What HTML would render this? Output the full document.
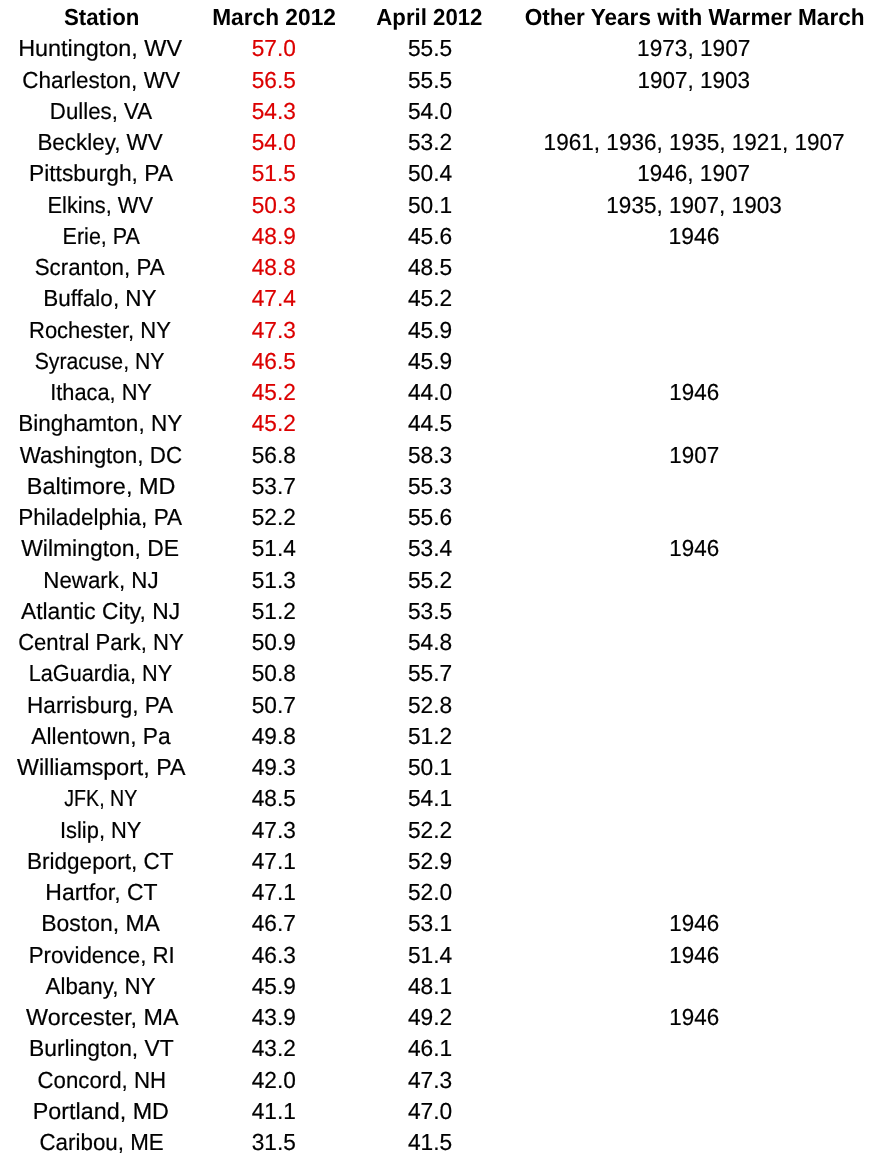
<!DOCTYPE html>
<html><head><meta charset="utf-8"><style>
html,body{margin:0;padding:0;background:#fff;width:878px;height:1159px;overflow:hidden}
body{position:relative;font-family:"Liberation Sans",sans-serif;color:#000;text-rendering:geometricPrecision}
.t{position:absolute;white-space:nowrap;-webkit-text-stroke:0.2px currentColor;width:500px;text-align:center;transform-origin:0 0}
.b{font-weight:bold;-webkit-text-stroke:0}
.r{color:#dc0000}
#wrap{position:absolute;left:0;top:0;width:878px;height:1159px;will-change:transform;filter:blur(0.3px)}
</style></head><body><div id="wrap">
<div class="t b" style="left:-140px;top:6.36px;padding-left:1.797px;font-size:23.2px;line-height:23.2px;transform:scaleX(0.9597)">Station</div>
<div class="t b" style="left:28px;top:6.36px;padding-left:1.123px;font-size:23.2px;line-height:23.2px;transform:scaleX(0.9798)">March 2012</div>
<div class="t b" style="left:188px;top:6.36px;padding-left:1.920px;font-size:23.2px;line-height:23.2px;transform:scaleX(0.9582)">April 2012</div>
<div class="t b" style="left:450px;top:6.36px;padding-left:1.320px;font-size:23.2px;line-height:23.2px;transform:scaleX(0.9733)">Other Years with Warmer March</div>
<div class="t" style="left:-154px;top:37.36px;padding-left:1.838px;font-size:23.2px;line-height:23.2px;transform:scaleX(1.0091)">Huntington, WV</div>
<div class="t r" style="left:28px;top:37.36px;padding-left:1.288px;font-size:23.2px;line-height:23.2px;transform:scaleX(0.9780)">57.0</div>
<div class="t" style="left:183px;top:37.36px;padding-left:1.938px;font-size:23.2px;line-height:23.2px;transform:scaleX(0.9806)">55.5</div>
<div class="t" style="left:448px;top:37.36px;padding-left:1.891px;font-size:23.2px;line-height:23.2px;transform:scaleX(0.9755)">1973, 1907</div>
<div class="t" style="left:-143px;top:69.36px;padding-left:1.422px;font-size:23.2px;line-height:23.2px;transform:scaleX(0.9708)">Charleston, WV</div>
<div class="t r" style="left:28px;top:69.36px;padding-left:1.288px;font-size:23.2px;line-height:23.2px;transform:scaleX(0.9780)">56.5</div>
<div class="t" style="left:183px;top:69.36px;padding-left:1.938px;font-size:23.2px;line-height:23.2px;transform:scaleX(0.9806)">55.5</div>
<div class="t" style="left:450px;top:69.36px;padding-left:1.434px;font-size:23.2px;line-height:23.2px;transform:scaleX(0.9692)">1907, 1903</div>
<div class="t" style="left:-140px;top:100.36px;padding-left:1.115px;font-size:23.2px;line-height:23.2px;transform:scaleX(0.9596)">Dulles, VA</div>
<div class="t r" style="left:28px;top:100.36px;padding-left:1.288px;font-size:23.2px;line-height:23.2px;transform:scaleX(0.9780)">54.3</div>
<div class="t" style="left:183px;top:100.36px;padding-left:1.938px;font-size:23.2px;line-height:23.2px;transform:scaleX(0.9806)">54.0</div>
<div class="t" style="left:-143px;top:131.36px;padding-left:1.693px;font-size:23.2px;line-height:23.2px;transform:scaleX(0.9657)">Beckley, WV</div>
<div class="t r" style="left:28px;top:131.36px;padding-left:1.288px;font-size:23.2px;line-height:23.2px;transform:scaleX(0.9780)">54.0</div>
<div class="t" style="left:183px;top:131.36px;padding-left:1.938px;font-size:23.2px;line-height:23.2px;transform:scaleX(0.9806)">53.2</div>
<div class="t" style="left:449px;top:131.36px;padding-left:2.005px;font-size:23.2px;line-height:23.2px;transform:scaleX(0.9728)">1961, 1936, 1935, 1921, 1907</div>
<div class="t" style="left:-146px;top:162.36px;padding-left:1.318px;font-size:23.2px;line-height:23.2px;transform:scaleX(0.9827)">Pittsburgh, PA</div>
<div class="t r" style="left:28px;top:162.36px;padding-left:1.288px;font-size:23.2px;line-height:23.2px;transform:scaleX(0.9780)">51.5</div>
<div class="t" style="left:183px;top:162.36px;padding-left:1.938px;font-size:23.2px;line-height:23.2px;transform:scaleX(0.9806)">50.4</div>
<div class="t" style="left:449px;top:162.36px;padding-left:1.900px;font-size:23.2px;line-height:23.2px;transform:scaleX(0.9711)">1946, 1907</div>
<div class="t" style="left:-136px;top:194.36px;padding-left:1.100px;font-size:23.2px;line-height:23.2px;transform:scaleX(0.9409)">Elkins, WV</div>
<div class="t r" style="left:28px;top:194.36px;padding-left:1.288px;font-size:23.2px;line-height:23.2px;transform:scaleX(0.9780)">50.3</div>
<div class="t" style="left:183px;top:194.36px;padding-left:1.938px;font-size:23.2px;line-height:23.2px;transform:scaleX(0.9806)">50.1</div>
<div class="t" style="left:450px;top:194.36px;padding-left:1.173px;font-size:23.2px;line-height:23.2px;transform:scaleX(0.9716)">1935, 1907, 1903</div>
<div class="t" style="left:-133px;top:225.36px;padding-left:2.147px;font-size:23.2px;line-height:23.2px;transform:scaleX(0.9291)">Erie, PA</div>
<div class="t r" style="left:28px;top:225.36px;padding-left:1.288px;font-size:23.2px;line-height:23.2px;transform:scaleX(0.9780)">48.9</div>
<div class="t" style="left:183px;top:225.36px;padding-left:1.938px;font-size:23.2px;line-height:23.2px;transform:scaleX(0.9806)">45.6</div>
<div class="t" style="left:445px;top:225.36px;padding-left:1.734px;font-size:23.2px;line-height:23.2px;transform:scaleX(0.9889)">1946</div>
<div class="t" style="left:-143px;top:256.36px;padding-left:2.052px;font-size:23.2px;line-height:23.2px;transform:scaleX(0.9625)">Scranton, PA</div>
<div class="t r" style="left:28px;top:256.36px;padding-left:1.288px;font-size:23.2px;line-height:23.2px;transform:scaleX(0.9780)">48.8</div>
<div class="t" style="left:183px;top:256.36px;padding-left:1.938px;font-size:23.2px;line-height:23.2px;transform:scaleX(0.9806)">48.5</div>
<div class="t" style="left:-144px;top:287.36px;padding-left:1.531px;font-size:23.2px;line-height:23.2px;transform:scaleX(0.9699)">Buffalo, NY</div>
<div class="t r" style="left:28px;top:287.36px;padding-left:1.288px;font-size:23.2px;line-height:23.2px;transform:scaleX(0.9780)">47.4</div>
<div class="t" style="left:183px;top:287.36px;padding-left:1.938px;font-size:23.2px;line-height:23.2px;transform:scaleX(0.9806)">45.2</div>
<div class="t" style="left:-139px;top:319.36px;padding-left:1.770px;font-size:23.2px;line-height:23.2px;transform:scaleX(0.9490)">Rochester, NY</div>
<div class="t r" style="left:28px;top:319.36px;padding-left:1.288px;font-size:23.2px;line-height:23.2px;transform:scaleX(0.9780)">47.3</div>
<div class="t" style="left:183px;top:319.36px;padding-left:1.938px;font-size:23.2px;line-height:23.2px;transform:scaleX(0.9806)">45.9</div>
<div class="t" style="left:-131px;top:350.36px;padding-left:1.818px;font-size:23.2px;line-height:23.2px;transform:scaleX(0.9157)">Syracuse, NY</div>
<div class="t r" style="left:28px;top:350.36px;padding-left:1.288px;font-size:23.2px;line-height:23.2px;transform:scaleX(0.9780)">46.5</div>
<div class="t" style="left:183px;top:350.36px;padding-left:1.938px;font-size:23.2px;line-height:23.2px;transform:scaleX(0.9806)">45.9</div>
<div class="t" style="left:-135px;top:381.36px;padding-left:1.497px;font-size:23.2px;line-height:23.2px;transform:scaleX(0.9387)">Ithaca, NY</div>
<div class="t r" style="left:28px;top:381.36px;padding-left:1.288px;font-size:23.2px;line-height:23.2px;transform:scaleX(0.9780)">45.2</div>
<div class="t" style="left:183px;top:381.36px;padding-left:1.938px;font-size:23.2px;line-height:23.2px;transform:scaleX(0.9806)">44.0</div>
<div class="t" style="left:452px;top:381.36px;padding-left:1.036px;font-size:23.2px;line-height:23.2px;transform:scaleX(0.9650)">1946</div>
<div class="t" style="left:-144px;top:412.36px;padding-left:1.550px;font-size:23.2px;line-height:23.2px;transform:scaleX(0.9709)">Binghamton, NY</div>
<div class="t r" style="left:28px;top:412.36px;padding-left:1.288px;font-size:23.2px;line-height:23.2px;transform:scaleX(0.9780)">45.2</div>
<div class="t" style="left:183px;top:412.36px;padding-left:1.938px;font-size:23.2px;line-height:23.2px;transform:scaleX(0.9806)">44.5</div>
<div class="t" style="left:-142px;top:444.36px;padding-left:1.220px;font-size:23.2px;line-height:23.2px;transform:scaleX(0.9670)">Washington, DC</div>
<div class="t" style="left:28px;top:444.36px;padding-left:1.288px;font-size:23.2px;line-height:23.2px;transform:scaleX(0.9780)">56.8</div>
<div class="t" style="left:183px;top:444.36px;padding-left:1.938px;font-size:23.2px;line-height:23.2px;transform:scaleX(0.9806)">58.3</div>
<div class="t" style="left:452px;top:444.36px;padding-left:1.036px;font-size:23.2px;line-height:23.2px;transform:scaleX(0.9650)">1907</div>
<div class="t" style="left:-153px;top:475.36px;padding-left:1.320px;font-size:23.2px;line-height:23.2px;transform:scaleX(1.0113)">Baltimore, MD</div>
<div class="t" style="left:28px;top:475.36px;padding-left:1.288px;font-size:23.2px;line-height:23.2px;transform:scaleX(0.9780)">53.7</div>
<div class="t" style="left:183px;top:475.36px;padding-left:1.938px;font-size:23.2px;line-height:23.2px;transform:scaleX(0.9806)">55.3</div>
<div class="t" style="left:-144px;top:506.36px;padding-left:1.090px;font-size:23.2px;line-height:23.2px;transform:scaleX(0.9724)">Philadelphia, PA</div>
<div class="t" style="left:28px;top:506.36px;padding-left:1.288px;font-size:23.2px;line-height:23.2px;transform:scaleX(0.9780)">52.2</div>
<div class="t" style="left:183px;top:506.36px;padding-left:1.938px;font-size:23.2px;line-height:23.2px;transform:scaleX(0.9806)">55.6</div>
<div class="t" style="left:-148px;top:537.36px;padding-left:1.169px;font-size:23.2px;line-height:23.2px;transform:scaleX(0.9879)">Wilmington, DE</div>
<div class="t" style="left:28px;top:537.36px;padding-left:1.288px;font-size:23.2px;line-height:23.2px;transform:scaleX(0.9780)">51.4</div>
<div class="t" style="left:183px;top:537.36px;padding-left:1.938px;font-size:23.2px;line-height:23.2px;transform:scaleX(0.9806)">53.4</div>
<div class="t" style="left:452px;top:537.36px;padding-left:1.036px;font-size:23.2px;line-height:23.2px;transform:scaleX(0.9650)">1946</div>
<div class="t" style="left:-141px;top:569.36px;padding-left:1.764px;font-size:23.2px;line-height:23.2px;transform:scaleX(0.9611)">Newark, NJ</div>
<div class="t" style="left:28px;top:569.36px;padding-left:1.288px;font-size:23.2px;line-height:23.2px;transform:scaleX(0.9780)">51.3</div>
<div class="t" style="left:183px;top:569.36px;padding-left:1.938px;font-size:23.2px;line-height:23.2px;transform:scaleX(0.9806)">55.2</div>
<div class="t" style="left:-146px;top:600.36px;padding-left:1.049px;font-size:23.2px;line-height:23.2px;transform:scaleX(0.9820)">Atlantic City, NJ</div>
<div class="t" style="left:28px;top:600.36px;padding-left:1.288px;font-size:23.2px;line-height:23.2px;transform:scaleX(0.9780)">51.2</div>
<div class="t" style="left:183px;top:600.36px;padding-left:1.938px;font-size:23.2px;line-height:23.2px;transform:scaleX(0.9806)">53.5</div>
<div class="t" style="left:-139px;top:631.36px;padding-left:2.043px;font-size:23.2px;line-height:23.2px;transform:scaleX(0.9521)">Central Park, NY</div>
<div class="t" style="left:28px;top:631.36px;padding-left:1.288px;font-size:23.2px;line-height:23.2px;transform:scaleX(0.9780)">50.9</div>
<div class="t" style="left:183px;top:631.36px;padding-left:1.938px;font-size:23.2px;line-height:23.2px;transform:scaleX(0.9806)">54.8</div>
<div class="t" style="left:-135px;top:662.36px;padding-left:1.802px;font-size:23.2px;line-height:23.2px;transform:scaleX(0.9349)">LaGuardia, NY</div>
<div class="t" style="left:28px;top:662.36px;padding-left:1.288px;font-size:23.2px;line-height:23.2px;transform:scaleX(0.9780)">50.8</div>
<div class="t" style="left:183px;top:662.36px;padding-left:1.938px;font-size:23.2px;line-height:23.2px;transform:scaleX(0.9806)">55.7</div>
<div class="t" style="left:-144px;top:694.36px;padding-left:1.489px;font-size:23.2px;line-height:23.2px;transform:scaleX(0.9705)">Harrisburg, PA</div>
<div class="t" style="left:28px;top:694.36px;padding-left:1.288px;font-size:23.2px;line-height:23.2px;transform:scaleX(0.9780)">50.7</div>
<div class="t" style="left:183px;top:694.36px;padding-left:1.938px;font-size:23.2px;line-height:23.2px;transform:scaleX(0.9806)">52.8</div>
<div class="t" style="left:-146px;top:725.36px;padding-left:1.369px;font-size:23.2px;line-height:23.2px;transform:scaleX(0.9827)">Allentown, Pa</div>
<div class="t" style="left:28px;top:725.36px;padding-left:1.288px;font-size:23.2px;line-height:23.2px;transform:scaleX(0.9780)">49.8</div>
<div class="t" style="left:183px;top:725.36px;padding-left:1.938px;font-size:23.2px;line-height:23.2px;transform:scaleX(0.9806)">51.2</div>
<div class="t" style="left:-150px;top:756.36px;padding-left:1.114px;font-size:23.2px;line-height:23.2px;transform:scaleX(1.0005)">Williamsport, PA</div>
<div class="t" style="left:28px;top:756.36px;padding-left:1.288px;font-size:23.2px;line-height:23.2px;transform:scaleX(0.9780)">49.3</div>
<div class="t" style="left:183px;top:756.36px;padding-left:1.938px;font-size:23.2px;line-height:23.2px;transform:scaleX(0.9806)">50.1</div>
<div class="t" style="left:-112px;top:787.36px;padding-left:1.828px;font-size:23.2px;line-height:23.2px;transform:scaleX(0.8451)">JFK, NY</div>
<div class="t" style="left:28px;top:787.36px;padding-left:1.288px;font-size:23.2px;line-height:23.2px;transform:scaleX(0.9780)">48.5</div>
<div class="t" style="left:183px;top:787.36px;padding-left:1.938px;font-size:23.2px;line-height:23.2px;transform:scaleX(0.9806)">54.1</div>
<div class="t" style="left:-137px;top:819.36px;padding-left:2.116px;font-size:23.2px;line-height:23.2px;transform:scaleX(0.9429)">Islip, NY</div>
<div class="t" style="left:28px;top:819.36px;padding-left:1.288px;font-size:23.2px;line-height:23.2px;transform:scaleX(0.9780)">47.3</div>
<div class="t" style="left:183px;top:819.36px;padding-left:1.938px;font-size:23.2px;line-height:23.2px;transform:scaleX(0.9806)">52.2</div>
<div class="t" style="left:-144px;top:850.36px;padding-left:1.726px;font-size:23.2px;line-height:23.2px;transform:scaleX(0.9703)">Bridgeport, CT</div>
<div class="t" style="left:28px;top:850.36px;padding-left:1.288px;font-size:23.2px;line-height:23.2px;transform:scaleX(0.9780)">47.1</div>
<div class="t" style="left:183px;top:850.36px;padding-left:1.938px;font-size:23.2px;line-height:23.2px;transform:scaleX(0.9806)">52.9</div>
<div class="t" style="left:-148px;top:881.36px;padding-left:1.990px;font-size:23.2px;line-height:23.2px;transform:scaleX(0.9900)">Hartfor, CT</div>
<div class="t" style="left:28px;top:881.36px;padding-left:1.288px;font-size:23.2px;line-height:23.2px;transform:scaleX(0.9780)">47.1</div>
<div class="t" style="left:183px;top:881.36px;padding-left:1.938px;font-size:23.2px;line-height:23.2px;transform:scaleX(0.9806)">52.0</div>
<div class="t" style="left:-148px;top:912.36px;padding-left:1.111px;font-size:23.2px;line-height:23.2px;transform:scaleX(0.9900)">Boston, MA</div>
<div class="t" style="left:28px;top:912.36px;padding-left:1.288px;font-size:23.2px;line-height:23.2px;transform:scaleX(0.9780)">46.7</div>
<div class="t" style="left:183px;top:912.36px;padding-left:1.938px;font-size:23.2px;line-height:23.2px;transform:scaleX(0.9806)">53.1</div>
<div class="t" style="left:452px;top:912.36px;padding-left:1.036px;font-size:23.2px;line-height:23.2px;transform:scaleX(0.9650)">1946</div>
<div class="t" style="left:-140px;top:944.36px;padding-left:1.550px;font-size:23.2px;line-height:23.2px;transform:scaleX(0.9610)">Providence, RI</div>
<div class="t" style="left:28px;top:944.36px;padding-left:1.288px;font-size:23.2px;line-height:23.2px;transform:scaleX(0.9780)">46.3</div>
<div class="t" style="left:183px;top:944.36px;padding-left:1.938px;font-size:23.2px;line-height:23.2px;transform:scaleX(0.9806)">51.4</div>
<div class="t" style="left:452px;top:944.36px;padding-left:1.036px;font-size:23.2px;line-height:23.2px;transform:scaleX(0.9650)">1946</div>
<div class="t" style="left:-141px;top:975.36px;padding-left:1.102px;font-size:23.2px;line-height:23.2px;transform:scaleX(0.9622)">Albany, NY</div>
<div class="t" style="left:28px;top:975.36px;padding-left:1.288px;font-size:23.2px;line-height:23.2px;transform:scaleX(0.9780)">45.9</div>
<div class="t" style="left:183px;top:975.36px;padding-left:1.938px;font-size:23.2px;line-height:23.2px;transform:scaleX(0.9806)">48.1</div>
<div class="t" style="left:-151px;top:1006.36px;padding-left:1.919px;font-size:23.2px;line-height:23.2px;transform:scaleX(1.0056)">Worcester, MA</div>
<div class="t" style="left:28px;top:1006.36px;padding-left:1.288px;font-size:23.2px;line-height:23.2px;transform:scaleX(0.9780)">43.9</div>
<div class="t" style="left:183px;top:1006.36px;padding-left:1.938px;font-size:23.2px;line-height:23.2px;transform:scaleX(0.9806)">49.2</div>
<div class="t" style="left:452px;top:1006.36px;padding-left:1.036px;font-size:23.2px;line-height:23.2px;transform:scaleX(0.9650)">1946</div>
<div class="t" style="left:-147px;top:1037.36px;padding-left:2.014px;font-size:23.2px;line-height:23.2px;transform:scaleX(0.9855)">Burlington, VT</div>
<div class="t" style="left:28px;top:1037.36px;padding-left:1.288px;font-size:23.2px;line-height:23.2px;transform:scaleX(0.9780)">43.2</div>
<div class="t" style="left:183px;top:1037.36px;padding-left:1.938px;font-size:23.2px;line-height:23.2px;transform:scaleX(0.9806)">46.1</div>
<div class="t" style="left:-139px;top:1069.36px;padding-left:1.090px;font-size:23.2px;line-height:23.2px;transform:scaleX(0.9589)">Concord, NH</div>
<div class="t" style="left:28px;top:1069.36px;padding-left:1.288px;font-size:23.2px;line-height:23.2px;transform:scaleX(0.9780)">42.0</div>
<div class="t" style="left:183px;top:1069.36px;padding-left:1.938px;font-size:23.2px;line-height:23.2px;transform:scaleX(0.9806)">47.3</div>
<div class="t" style="left:-152px;top:1100.36px;padding-left:1.067px;font-size:23.2px;line-height:23.2px;transform:scaleX(1.0071)">Portland, MD</div>
<div class="t" style="left:28px;top:1100.36px;padding-left:1.288px;font-size:23.2px;line-height:23.2px;transform:scaleX(0.9780)">41.1</div>
<div class="t" style="left:183px;top:1100.36px;padding-left:1.938px;font-size:23.2px;line-height:23.2px;transform:scaleX(0.9806)">47.0</div>
<div class="t" style="left:-141px;top:1131.36px;padding-left:1.649px;font-size:23.2px;line-height:23.2px;transform:scaleX(0.9640)">Caribou, ME</div>
<div class="t" style="left:28px;top:1131.36px;padding-left:1.288px;font-size:23.2px;line-height:23.2px;transform:scaleX(0.9780)">31.5</div>
<div class="t" style="left:183px;top:1131.36px;padding-left:1.938px;font-size:23.2px;line-height:23.2px;transform:scaleX(0.9806)">41.5</div>
</div></body></html>
